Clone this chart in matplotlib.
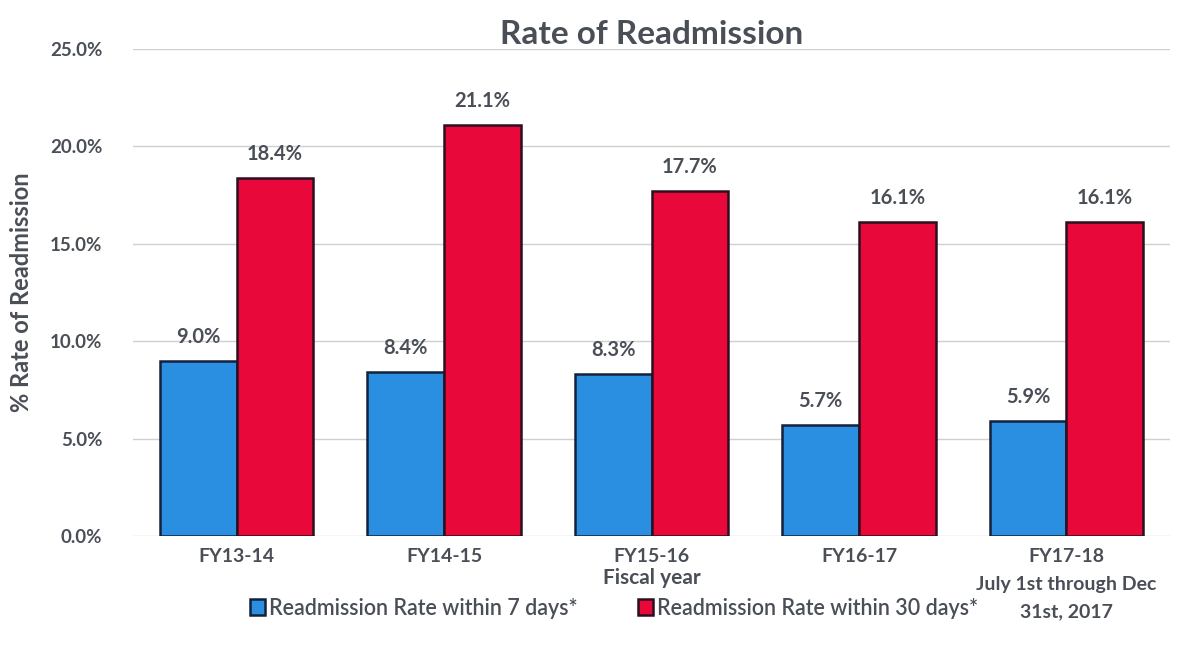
import matplotlib.pyplot as plt
import numpy as np

# dados
categorias = ["FY13-14", "FY14-15", "FY15-16", "FY16-17",
              "FY17-18\nJuly 1st through Dec\n31st, 2017"]
taxa_7dias = [9.0, 8.4, 8.3, 5.7, 5.9]
taxa_30dias = [18.4, 21.1, 17.7, 16.1, 16.1]

plt.rcParams['font.family'] = ['Lato', 'DejaVu Sans']

cinza = '#4a4f57'
azul = '#2a8fe0'
vermelho = '#e8083a'

x = np.arange(len(categorias))
w = 0.37

fig = plt.figure(figsize=(12.03, 6.45), dpi=100)
ax = fig.add_axes([0.1106, 0.169, 0.862, 0.755])

b1 = ax.bar(x - w/2, taxa_7dias, w, color=azul, edgecolor='#14213d', linewidth=1.8,
            label="Readmission Rate within 7 days*")
b2 = ax.bar(x + w/2, taxa_30dias, w, color=vermelho, edgecolor='#2a1020', linewidth=1.8,
            label="Readmission Rate within 30 days*")

for barras in (b1, b2):
    for b in barras:
        h = b.get_height()
        ax.annotate(f"{h:.1f}%", (b.get_x() + b.get_width()/2, h),
                    xytext=(0, 10), textcoords='offset points', ha='center', va='bottom',
                    fontsize=14.5, fontweight='bold', color=cinza)

ax.set_ylim(0, 25)
ax.set_xlim(-0.5, 4.5)
ax.set_yticks(np.arange(0, 25.1, 5))
ax.set_yticklabels([f"{v:.1f}%" for v in np.arange(0, 25.1, 5)])
ax.set_xticks(x)
ax.set_xticklabels(categorias, va='top', linespacing=1.75)
ax.tick_params(axis='both', length=0, labelsize=13.5, labelcolor=cinza)
ax.tick_params(axis='x', pad=9, labelsize=14)
ax.tick_params(axis='y', pad=22)
for lab in ax.get_yticklabels() + ax.get_xticklabels():
    lab.set_fontweight('bold')

ax.grid(axis='y', color='#d0d0d0', linewidth=1)
ax.set_axisbelow(True)
for s in ax.spines.values():
    s.set_visible(False)

ax.set_title("Rate of Readmission", fontsize=24, fontweight='bold', color=cinza, pad=2)
ax.set_ylabel("% Rate of Readmission", fontsize=17, fontweight='bold', color=cinza, labelpad=12)
ax.text(0.5, -0.086, "Fiscal year", transform=ax.transAxes, ha='center', va='center',
        fontsize=15, fontweight='bold', color=cinza)

ax.legend(loc='center', bbox_to_anchor=(0.464, -0.148), ncol=2, frameon=False,
          prop={'size': 15.5, 'weight': 'semibold'}, handlelength=0.7, handleheight=0.7,
          handletextpad=0.2, columnspacing=2.8, labelcolor=cinza)

fig.savefig("out.png", dpi=100)
